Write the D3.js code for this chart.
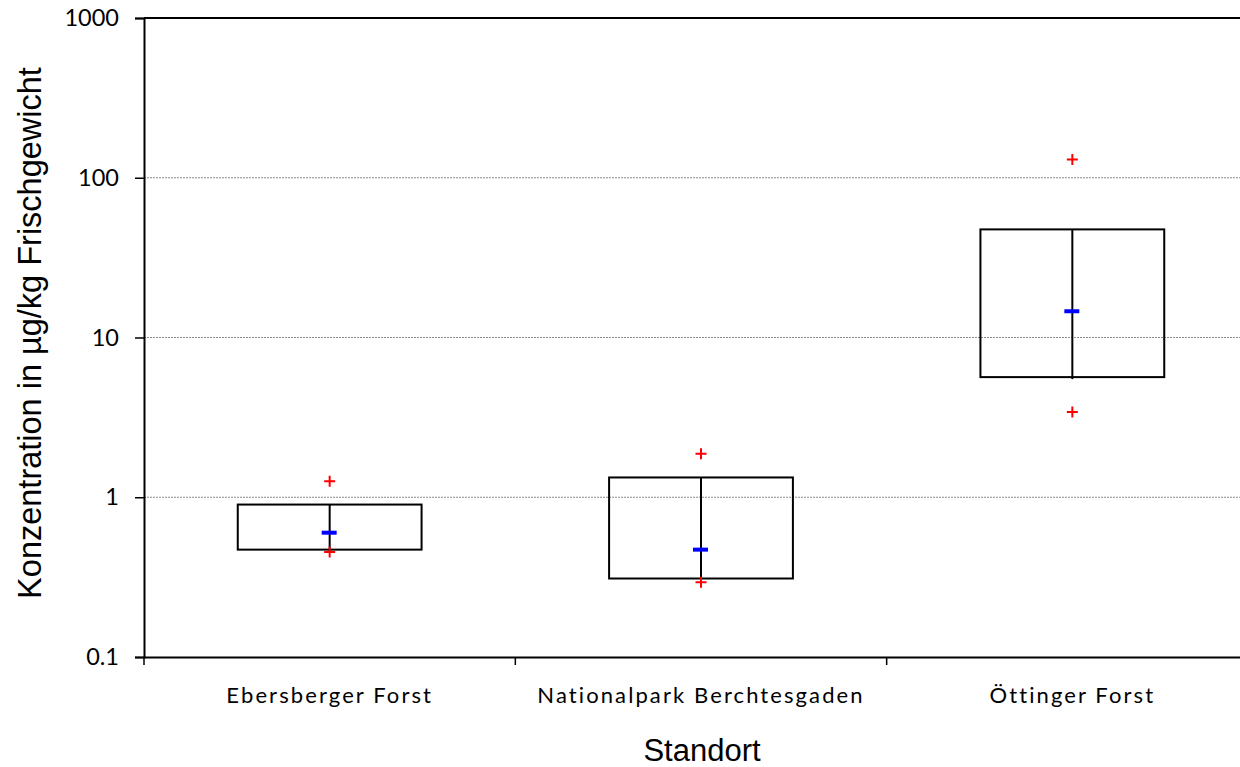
<!DOCTYPE html>
<html>
<head>
<meta charset="utf-8">
<script src="https://cdn.jsdelivr.net/npm/d3@7"></script>
<style>
  body { margin: 0; background: #fff; }
  svg { display: block; }
</style>
</head>
<body>
<div id="chart"></div>
<script>
// Box chart, log scale
var categories = [ "Ebersberger Forst", "Nationalpark Berchtesgaden", "Öttinger Forst" ];
var boxLow    = [ 0.47, 0.31, 5.65 ];
var boxHigh   = [ 0.90, 1.33, 47.5 ];
var medians   = [ 0.60, 0.47, 14.6 ];
var minValues = [ 0.455, 0.294, 3.42 ];
var maxValues = [ 1.26, 1.87, 130 ];
var yTicks    = [ 0.1, 1, 10, 100, 1000 ];

var width = 1240, height = 767;
var margin = { top: 18, left: 144, bottom: 110 };
var plotRight = 1258;

var svg = d3.select( "#chart" ).append( "svg" )
    .attr( "width", width )
    .attr( "height", height );

var x = d3.scaleBand().domain( categories ).range( [ margin.left, plotRight ] ).padding( 0 );
var y = d3.scaleLog().domain( [ 0.1, 1000 ] ).range( [ height - margin.bottom, margin.top ] );

var data = categories.map( function( c, i ) {
    return { cat: c, lo: boxLow[i], hi: boxHigh[i], med: medians[i], min: minValues[i], max: maxValues[i] };
});

// gridlines
svg.append( "g" ).selectAll( "line" )
    .data( [ 1, 10, 100 ] )
    .enter().append( "line" )
    .attr( "x1", margin.left ).attr( "x2", width )
    .attr( "y1", function( d ) { return y( d ); } )
    .attr( "y2", function( d ) { return y( d ); } )
    .attr( "stroke", "#8c8c8c" )
    .attr( "stroke-width", 1 )
    .attr( "stroke-dasharray", "2,1" );

// top border
svg.append( "line" )
    .attr( "x1", margin.left ).attr( "x2", width )
    .attr( "y1", y( 1000 ) ).attr( "y2", y( 1000 ) )
    .attr( "stroke", "#000" ).attr( "stroke-width", 2 );

// y axis
var yAxis = svg.append( "g" )
    .attr( "transform", "translate(" + margin.left + ",0)" )
    .call( d3.axisLeft( y ).tickValues( yTicks ).tickFormat( function( d ) { return String( d ); } ).tickSizeOuter( 0 ).tickSize( 9 ).tickPadding( 16 ) );
yAxis.select( ".domain" ).attr( "stroke-width", 2 );
yAxis.selectAll( ".tick line" ).attr( "stroke-width", 1.5 );
yAxis.selectAll( "text" )
    .style( "font-family", "Lato, 'Open Sans', sans-serif" )
    .style( "font-size", "23.5px" )
    .attr( "fill", "#000" );

// x axis
var xAxis = svg.append( "g" )
    .attr( "transform", "translate(0," + ( height - margin.bottom ) + ")" )
    .call( d3.axisBottom( x ).tickSize( 0 ).tickSizeOuter( 0 ).tickPadding( 30 ) );
xAxis.select( ".domain" ).attr( "stroke-width", 2 );
xAxis.selectAll( "text" )
    .style( "font-family", "Lato, 'Open Sans', sans-serif" )
    .style( "font-size", "22px" )
    .style( "letter-spacing", "2.1px" )
    .attr( "fill", "#000" );

// category separators
svg.append( "g" ).selectAll( "line" )
    .data( categories.concat( [ null ] ) )
    .enter().append( "line" )
    .attr( "x1", function( d ) { return d ? x( d ) : plotRight; } )
    .attr( "x2", function( d ) { return d ? x( d ) : plotRight; } )
    .attr( "y1", height - margin.bottom )
    .attr( "y2", height - margin.bottom + 8 )
    .attr( "stroke", "#000" ).attr( "stroke-width", 1.5 );

var boxW = x.bandwidth() * 0.495;
var cx = function( d ) { return x( d.cat ) + x.bandwidth() / 2; };

// boxes
svg.selectAll( ".box" )
    .data( data )
    .enter().append( "rect" )
    .attr( "class", "box" )
    .attr( "x", function( d ) { return cx( d ) - boxW / 2; } )
    .attr( "y", function( d ) { return y( d.hi ); } )
    .attr( "width", boxW )
    .attr( "height", function( d ) { return y( d.lo ) - y( d.hi ); } )
    .attr( "fill", "none" )
    .attr( "stroke", "#000" )
    .attr( "stroke-width", 2 );

// centre line
svg.selectAll( ".stem" )
    .data( data )
    .enter().append( "line" )
    .attr( "x1", cx ).attr( "x2", cx )
    .attr( "y1", function( d ) { return y( d.hi ); } )
    .attr( "y2", function( d ) { return y( d.lo ) + 2; } )
    .attr( "stroke", "#000" )
    .attr( "stroke-width", 2 );

// medians
svg.selectAll( ".med" )
    .data( data )
    .enter().append( "line" )
    .attr( "x1", function( d ) { return cx( d ) - 8; } )
    .attr( "x2", function( d ) { return cx( d ) + 7; } )
    .attr( "y1", function( d ) { return y( d.med ); } )
    .attr( "y2", function( d ) { return y( d.med ); } )
    .attr( "stroke", "#0000ff" )
    .attr( "stroke-width", 4 );

// min / max markers
var extremes = [];
data.forEach( function( d ) {
    extremes.push( { cat: d.cat, v: d.min } );
    extremes.push( { cat: d.cat, v: d.max } );
});
svg.selectAll( ".plus" )
    .data( extremes )
    .enter().append( "path" )
    .attr( "class", "plus" )
    .attr( "d", function( d ) {
        var px = cx( d ), py = y( d.v );
        return "M" + ( px - 5.5 ) + "," + py + "H" + ( px + 5.5 ) + "M" + px + "," + ( py - 5.5 ) + "V" + ( py + 5.5 );
    })
    .attr( "stroke", "#ff0000" )
    .attr( "stroke-width", 2 );

// axis titles
svg.append( "text" )
    .attr( "x", 702 )
    .attr( "y", 761 )
    .attr( "text-anchor", "middle" )
    .style( "font-family", "'Liberation Sans', Arial, sans-serif" )
    .style( "font-size", "31px" )
    .text( "Standort" );

svg.append( "text" )
    .attr( "transform", "rotate(-90)" )
    .attr( "x", -333 )
    .attr( "y", 41 )
    .attr( "text-anchor", "middle" )
    .style( "font-family", "'Liberation Sans', Arial, sans-serif" )
    .style( "font-size", "32.5px" )
    .text( "Konzentration in µg/kg Frischgewicht" );
</script>
</body>
</html>
